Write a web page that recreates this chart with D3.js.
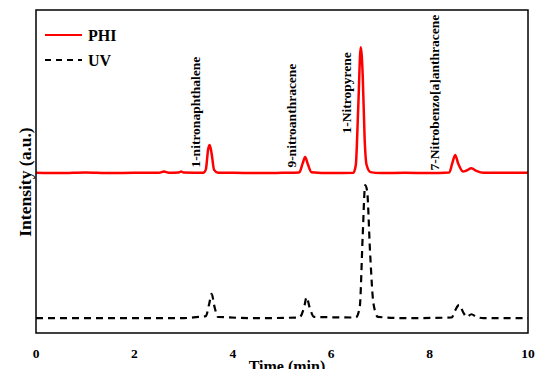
<!DOCTYPE html>
<meta charset="utf-8">
<style>
body { margin: 0; background: #fff; }
text { font-family: "Liberation Serif", "Times New Roman", serif; font-weight: bold; }
.line { fill: none; }
</style>
<body>
<script src="https://d3js.org/d3.v7.min.js"></script>
<script>

// chromatogram data, time in min, intensity in a.u.
var phiTime = [0, 0.5, 1.0, 1.5, 2.0, 2.5, 2.6, 2.7, 2.9, 2.95, 3.0, 3.4, 3.45, 3.5, 3.53, 3.57, 3.62, 3.7,
  4.0, 4.5, 5.0, 5.35, 5.42, 5.47, 5.52, 5.6, 6.0, 6.45, 6.5, 6.55, 6.6, 6.64, 6.68, 6.72, 6.8,
  7.0, 7.5, 8.0, 8.4, 8.46, 8.52, 8.58, 8.68, 8.75, 8.85, 8.95, 9.1, 9.5, 10];
var phiValue = [49.6, 49.5, 49.7, 49.5, 49.6, 49.6, 50.0, 49.6, 49.7, 50.0, 49.7, 49.6, 50.5, 57.0, 58.2, 55.5, 50.5, 49.6,
  49.6, 49.5, 49.6, 49.7, 52.5, 54.5, 52.5, 49.8, 49.5, 49.6, 52, 70, 88.5, 80, 60, 52, 49.8,
  49.5, 49.6, 49.5, 49.7, 52.5, 55.1, 52.5, 50.0, 50.3, 51.0, 50.2, 49.6, 49.6, 49.6];

var uvTime = [0, 1.0, 2.0, 3.0, 3.3, 3.45, 3.52, 3.57, 3.63, 3.7, 4.5, 5.35, 5.45, 5.5, 5.56, 5.65,
  6.5, 6.58, 6.64, 6.69, 6.73, 6.79, 6.86, 6.95, 7.5, 8.45, 8.52, 8.6, 8.68, 8.75, 8.85, 8.95, 9.1, 10];
var uvValue = [4.6, 4.6, 4.6, 4.6, 5.0, 5.2, 9, 12.1, 8, 5, 4.6, 4.8, 8, 11.1, 8, 5,
  4.8, 8, 30, 45.8, 44, 25, 9, 5, 4.6, 4.8, 7, 8.7, 6.5, 5, 5.8, 5.0, 4.6, 4.6];

var xTicks = [0, 2, 4, 6, 8, 10];

// peak labels: name, time of label, lower end of label (a.u.)
var peakNames = ["1-nitronaphthalene", "9-nitroanthracene", "1-Nitropyrene", "7-Nitrobenzo[a]anthracene"];
var peakLabelTime = [3.24, 5.19, 6.31, 8.08];
var peakLabelBase = [51.2, 51.2, 61.8, 50.3];

var margin = {top: 10, right: 12, bottom: 36, left: 36},
    width = 540 - margin.left - margin.right,
    height = 369 - margin.top - margin.bottom;

var x = d3.scaleLinear().domain([0, 10]).range([0, width]);
var y = d3.scaleLinear().domain([0, 100]).range([height, 0]);

var svg = d3.select("body").append("svg")
    .attr("width", 540)
    .attr("height", 369)
  .append("g")
    .attr("transform", "translate(" + margin.left + "," + margin.top + ")");

var line = d3.line()
    .x(function(d) { return x(d[0]); })
    .y(function(d) { return y(d[1]); })
    .curve(d3.curveMonotoneX);

svg.append("path")
    .datum(d3.zip(uvTime, uvValue))
    .attr("class", "line")
    .attr("stroke", "#000")
    .attr("stroke-width", 2.2)
    .attr("stroke-dasharray", "7,5")
    .attr("d", line);

svg.append("path")
    .datum(d3.zip(phiTime, phiValue))
    .attr("class", "line")
    .attr("stroke", "#ff0000")
    .attr("stroke-width", 2.5)
    .attr("d", line);

// frame
svg.append("rect")
    .attr("width", width)
    .attr("height", height)
    .attr("fill", "none")
    .attr("stroke", "#000")
    .attr("stroke-width", 1.5);

// x tick labels
svg.selectAll(".tick-label")
    .data(xTicks)
  .enter().append("text")
    .attr("class", "tick-label")
    .attr("x", function(d) { return x(d); })
    .attr("y", height + 25)
    .attr("text-anchor", "middle")
    .style("font-size", "13.5px")
    .text(function(d) { return d; });

svg.append("text")
    .attr("x", 251)
    .attr("y", height + 39)
    .attr("text-anchor", "middle")
    .style("font-size", "16px")
    .text("Time (min)");

svg.append("text")
    .attr("transform", "translate(-5,172) rotate(-90)")
    .attr("text-anchor", "middle")
    .style("font-size", "17.5px")
    .text("Intensity (a.u.)");

// peak labels
svg.selectAll(".peak")
    .data(peakNames)
  .enter().append("text")
    .attr("class", "peak")
    .attr("transform", function(d, i) {
      return "translate(" + (x(peakLabelTime[i]) + 5) + "," + y(peakLabelBase[i]) + ") rotate(-90)";
    })
    .style("font-size", "13.5px")
    .text(function(d) { return d; });

// legend
var legend = svg.append("g").attr("transform", "translate(9,25)");
legend.append("line")
    .attr("x1", 0).attr("x2", 37).attr("y1", 0).attr("y2", 0)
    .attr("stroke", "#ff0000").attr("stroke-width", 2);
legend.append("text")
    .attr("x", 43).attr("y", 5.5)
    .style("font-size", "16px")
    .text("PHI");
legend.append("line")
    .attr("x1", 0).attr("x2", 37).attr("y1", 25).attr("y2", 25)
    .attr("stroke", "#000").attr("stroke-width", 2)
    .attr("stroke-dasharray", "6,5");
legend.append("text")
    .attr("x", 43).attr("y", 30.5)
    .style("font-size", "16px")
    .text("UV");

</script>
</body>
